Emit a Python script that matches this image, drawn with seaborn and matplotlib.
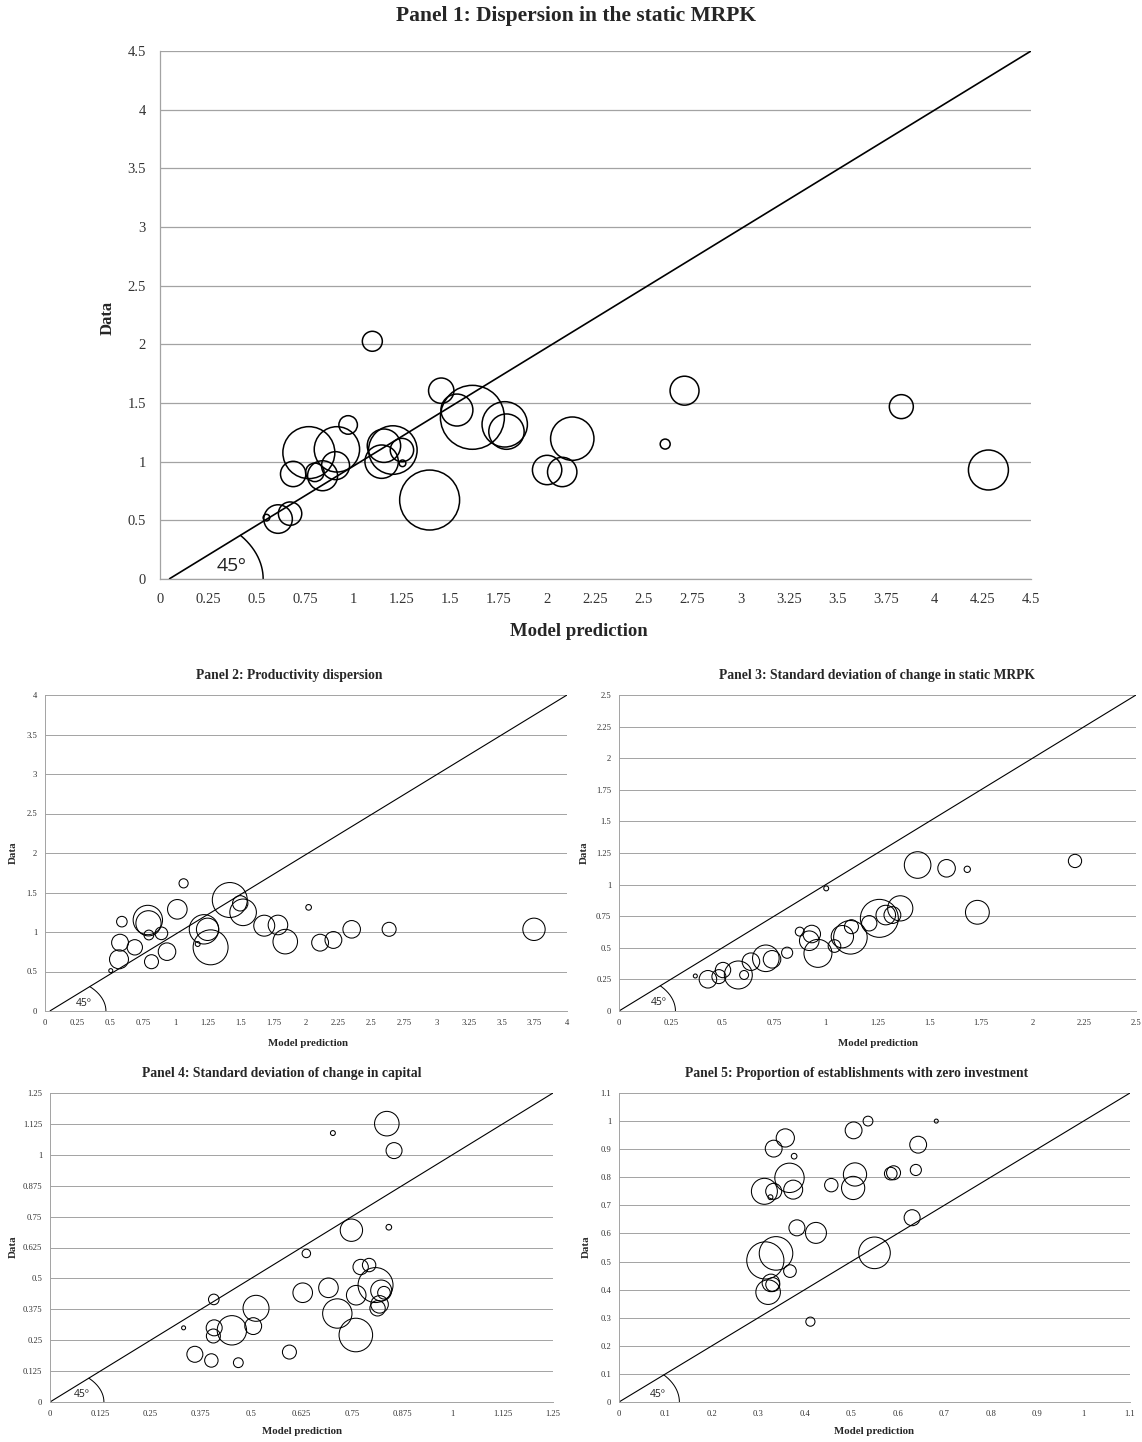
import numpy as np
import pandas as pd
import matplotlib
matplotlib.use("Agg")
import matplotlib.pyplot as plt
import seaborn as sns

# ---------------------------------------------------------------- data
# Panel 1: Dispersion in the static MRPK
p1_model = [1.097, 1.453, 1.534, 1.614, 1.781, 1.790, 2.130, 2.000, 2.078, 1.393,
            1.203, 1.157, 1.145, 1.250, 1.253, 0.972, 0.914, 0.769, 0.907, 0.840,
            0.800, 0.688, 0.610, 0.672, 0.550, 2.710, 2.610, 3.830, 4.280]
p1_data = [2.026, 1.605, 1.440, 1.378, 1.318, 1.256, 1.196, 0.929, 0.912, 0.673,
           1.099, 1.136, 1.000, 1.099, 0.986, 1.313, 1.105, 1.077, 0.966, 0.880,
           0.909, 0.895, 0.511, 0.557, 0.523, 1.605, 1.150, 1.469, 0.929]
p1_weight = [100, 161, 256, 1024, 515, 313, 471, 216, 216, 900,
             590, 279, 279, 137, 11, 86, 515, 676, 196, 225,
             86, 161, 204, 137, 11, 210, 25, 144, 400]

# Panel 2: Productivity dispersion
p2_model = [1.062, 1.416, 1.496, 1.518, 1.014, 0.788, 0.793, 0.589, 0.796, 0.892,
            0.575, 0.688, 0.567, 0.504, 0.816, 0.935, 1.218, 1.246, 1.269, 1.170,
            1.680, 1.785, 1.841, 2.020, 2.108, 2.210, 2.350, 2.637, 3.747]
p2_data = [1.616, 1.405, 1.363, 1.249, 1.287, 1.152, 1.110, 1.131, 0.962, 0.983,
           0.865, 0.806, 0.654, 0.511, 0.624, 0.751, 1.034, 1.034, 0.806, 0.848,
           1.080, 1.089, 0.878, 1.312, 0.865, 0.899, 1.034, 1.034, 1.034]
p2_weight = [21, 306, 59, 177, 96, 216, 159, 28, 24, 40,
             71, 59, 90, 4, 49, 77, 216, 125, 306, 6,
             110, 96, 151, 8, 71, 71, 77, 49, 125]

# Panel 3: Standard deviation of change in static MRPK
p3_model = [0.369, 0.430, 0.483, 0.503, 0.577, 0.605, 0.638, 0.710, 0.740, 0.813,
            0.874, 0.932, 0.920, 0.962, 1.042, 1.080, 1.119, 1.124, 1.210, 1.259,
            1.290, 1.322, 1.360, 1.002, 1.444, 1.584, 1.684, 1.733, 2.205]
p3_data = [0.277, 0.251, 0.272, 0.324, 0.285, 0.285, 0.390, 0.417, 0.409, 0.461,
           0.628, 0.609, 0.556, 0.456, 0.514, 0.588, 0.583, 0.667, 0.694, 0.733,
           0.759, 0.759, 0.812, 0.970, 1.155, 1.129, 1.121, 0.781, 1.187]
p3_weight = [4, 77, 49, 59, 196, 20, 77, 177, 77, 31,
             20, 77, 96, 196, 40, 125, 282, 49, 59, 361,
             96, 71, 159, 6, 177, 77, 10, 142, 44]

# Panel 4: Standard deviation of change in capital
p4_model = [0.703, 0.837, 0.855, 0.842, 0.749, 0.637, 0.772, 0.793, 0.809, 0.823,
            0.830, 0.819, 0.814, 0.761, 0.692, 0.628, 0.714, 0.760, 0.595, 0.468,
            0.401, 0.360, 0.332, 0.407, 0.408, 0.406, 0.452, 0.505, 0.512]
p4_data = [1.088, 1.126, 1.017, 0.707, 0.695, 0.601, 0.546, 0.554, 0.473, 0.451,
           0.442, 0.395, 0.379, 0.432, 0.462, 0.442, 0.358, 0.271, 0.202, 0.159,
           0.168, 0.193, 0.300, 0.415, 0.300, 0.267, 0.290, 0.307, 0.379]
p4_weight = [6, 151, 64, 8, 125, 18, 59, 45, 306, 110,
             40, 77, 59, 96, 96, 96, 216, 282, 49, 24,
             45, 64, 4, 28, 64, 49, 216, 71, 169]

# Panel 5: Proportion of establishments with zero investment
p5_model = [0.536, 0.683, 0.505, 0.358, 0.333, 0.377, 0.644, 0.639, 0.585, 0.591,
            0.508, 0.504, 0.457, 0.367, 0.375, 0.313, 0.333, 0.326, 0.631, 0.383,
            0.424, 0.550, 0.315, 0.338, 0.368, 0.327, 0.331, 0.321, 0.412]
p5_data = [1.000, 1.000, 0.967, 0.940, 0.902, 0.875, 0.916, 0.826, 0.813, 0.816,
           0.810, 0.762, 0.772, 0.798, 0.756, 0.750, 0.750, 0.729, 0.656, 0.620,
           0.602, 0.531, 0.504, 0.529, 0.466, 0.424, 0.418, 0.391, 0.286]
p5_weight = [24, 4, 71, 83, 71, 8, 71, 31, 40, 49,
             135, 135, 45, 216, 90, 169, 64, 6, 64, 64,
             110, 250, 346, 282, 40, 77, 49, 151, 21]

p1_ticks_x = [i * 0.25 for i in range(19)]
p1_ticks_y = [i * 0.5 for i in range(10)]
p2_ticks_x = [i * 0.25 for i in range(17)]
p2_ticks_y = [i * 0.5 for i in range(9)]
p3_ticks = [i * 0.25 for i in range(11)]
p4_ticks = [i * 0.125 for i in range(11)]
p5_ticks = [i * 0.1 for i in range(12)]

titles = ["Panel 1: Dispersion in the static MRPK",
          "Panel 2: Productivity dispersion",
          "Panel 3: Standard deviation of change in static MRPK",
          "Panel 4: Standard deviation of change in capital",
          "Panel 5: Proportion of establishments with zero investment"]

# ---------------------------------------------------------------- style
sns.set_style("white")
plt.rcParams["font.family"] = ["Liberation Serif", "DejaVu Serif"]

W, H = 1142, 1442
fig = plt.figure(figsize=(W / 100, H / 100), dpi=100)
GRID = "#a3a3a3"
TICKC = "#333333"


def px_axes(x0, x1, ytop, ybot):
    return fig.add_axes([x0 / W, 1 - ybot / H, (x1 - x0) / W, (ybot - ytop) / H])


def draw_panel(ax, model, data, weight, xt, yt, lim, line_start, arc_ab,
               deg_xy, big):
    df = pd.DataFrame({"model": model, "data": data, "weight": weight})
    wmax = max(weight)
    k = 2.07  # pt^2 per unit weight
    lw_mark = 1.1 if big else 0.75
    sns.scatterplot(data=df, x="model", y="data", size="weight",
                    sizes=(0, k * wmax), size_norm=(0, wmax),
                    facecolor="none", edgecolor="black", linewidth=lw_mark,
                    legend=False, ax=ax, zorder=3, clip_on=False)
    ax.set_xlim(0, lim)
    ax.set_ylim(0, lim)
    ax.set_xticks(xt)
    ax.set_yticks(yt)
    ax.set_xticklabels([f"{v:g}" for v in xt])
    ax.set_yticklabels([f"{v:g}" for v in yt])
    ax.set_xlabel("")
    ax.set_ylabel("")
    ax.grid(axis="y", color=GRID, linewidth=0.9 if big else 0.7, zorder=0)
    ax.grid(axis="x", visible=False)
    for side in ("top", "right"):
        ax.spines[side].set_visible(False)
    for side in ("left", "bottom"):
        ax.spines[side].set_color(GRID)
        ax.spines[side].set_linewidth(0.9 if big else 0.7)
    fs = 10.5 if big else 6.2
    ax.tick_params(axis="both", which="both", direction="out",
                   length=4 if big else 2.5, width=0.8 if big else 0.6,
                   color=GRID, labelsize=fs, labelcolor=TICKC,
                   pad=6 if big else 3)

    # 45-degree reference line
    lw_line = 1.2 if big else 0.8
    ax.plot([line_start, lim], [0, lim], color="black", linewidth=lw_line,
            zorder=2, solid_capstyle="butt")

    # angle arc between the x-axis and the reference line
    a, b = arc_ab
    t = np.linspace(0, np.pi / 2, 400)
    xs = line_start + a * np.cos(t)
    ys = b * np.sin(t)
    yline = (xs - line_start) * lim / (lim - line_start)
    keep = ys <= yline + 1e-9
    ax.plot(xs[keep], ys[keep], color="black", linewidth=lw_line * 0.9,
            zorder=2)
    ax.text(deg_xy[0], deg_xy[1], "45º", family=["Open Sans", "DejaVu Sans"],
            fontsize=14 if big else 7.5, color="#222222",
            ha="center", va="center", zorder=4)


# Panel 1 (large)
ax1 = px_axes(160, 1031, 51, 579)
draw_panel(ax1, p1_model, p1_data, p1_weight, p1_ticks_x, p1_ticks_y, 4.5,
           0.047, (0.486, 0.571), (0.37, 0.11), True)
fig.text(576 / W, 1 - 16 / H, titles[0], ha="center", va="center",
         fontsize=15.5, fontweight="bold")
fig.text(108 / W, 1 - 318 / H, "Data", rotation=90, ha="center",
         va="center", fontsize=12, fontweight="bold")
fig.text(579 / W, 1 - 632 / H, "Model prediction", ha="center",
         va="center", fontsize=13.5, fontweight="bold")

# Panel 2
ax2 = px_axes(45, 567, 695, 1011)
draw_panel(ax2, p2_model, p2_data, p2_weight, p2_ticks_x, p2_ticks_y, 4,
           0.037, (0.43, 0.44), (0.3, 0.1), False)
# Panel 3
ax3 = px_axes(619, 1136, 695, 1011)
draw_panel(ax3, p3_model, p3_data, p3_weight, p3_ticks, p3_ticks, 2.5,
           0.0, (0.273, 0.292), (0.19, 0.065), False)
# Panel 4
ax4 = px_axes(50, 553, 1093, 1402)
draw_panel(ax4, p4_model, p4_data, p4_weight, p4_ticks, p4_ticks, 1.25,
           0.0, (0.134, 0.139), (0.08, 0.03), False)
# Panel 5
ax5 = px_axes(619, 1130, 1093, 1402)
draw_panel(ax5, p5_model, p5_data, p5_weight, p5_ticks, p5_ticks, 1.1,
           0.0, (0.130, 0.144), (0.083, 0.027), False)

small = [
    (titles[1], 289, 676, 13, 853, 308, 1043),
    (titles[2], 877, 676, 584, 853, 878, 1043),
    (titles[3], 282, 1074, 13, 1247, 302, 1432),
    (titles[4], 857, 1074, 586, 1247, 874, 1432),
]
for title, tx, ty, dx, dy, mx, my in small:
    fig.text(tx / W, 1 - ty / H, title, ha="center", va="center",
             fontsize=9.8, fontweight="bold")
    fig.text(dx / W, 1 - dy / H, "Data", rotation=90, ha="center",
             va="center", fontsize=7.8, fontweight="bold")
    fig.text(mx / W, 1 - my / H, "Model prediction", ha="center",
             va="center", fontsize=7.8, fontweight="bold")

fig.savefig("out.png", dpi=100, facecolor="white")
